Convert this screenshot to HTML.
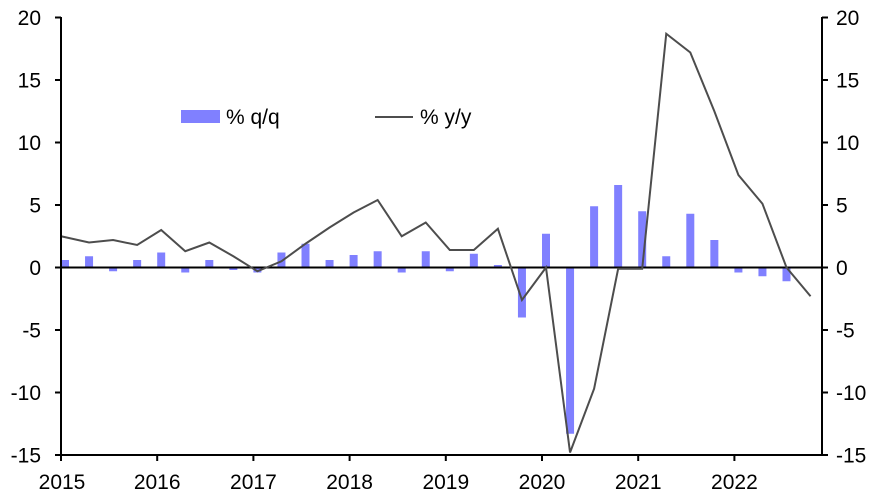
<!DOCTYPE html>
<html><head><meta charset="utf-8"><style>body{margin:0;background:#fff}svg{display:block}text{font-family:"Liberation Sans",Arial,sans-serif;font-size:21px;fill:#000}</style></head><body>
<svg width="883" height="498" xmlns="http://www.w3.org/2000/svg">
<g fill="#8080ff">
<rect x="61" y="260" width="8" height="7.5"/>
<rect x="85.05" y="256.25" width="8" height="11.25"/>
<rect x="109.1" y="267.5" width="8" height="3.75"/>
<rect x="133.15" y="260" width="8" height="7.5"/>
<rect x="157.2" y="252.5" width="8" height="15"/>
<rect x="181.25" y="267.5" width="8" height="5"/>
<rect x="205.3" y="260" width="8" height="7.5"/>
<rect x="229.35" y="267.5" width="8" height="2.5"/>
<rect x="253.4" y="267.5" width="8" height="5"/>
<rect x="277.45" y="252.5" width="8" height="15"/>
<rect x="301.5" y="243.75" width="8" height="23.75"/>
<rect x="325.55" y="260" width="8" height="7.5"/>
<rect x="349.6" y="255" width="8" height="12.5"/>
<rect x="373.65" y="251.25" width="8" height="16.25"/>
<rect x="397.7" y="267.5" width="8" height="5"/>
<rect x="421.75" y="251.25" width="8" height="16.25"/>
<rect x="445.8" y="267.5" width="8" height="3.75"/>
<rect x="469.85" y="253.75" width="8" height="13.75"/>
<rect x="493.9" y="265" width="8" height="2.5"/>
<rect x="517.95" y="267.5" width="8" height="50"/>
<rect x="542" y="233.75" width="8" height="33.75"/>
<rect x="566.05" y="267.5" width="8" height="166.25"/>
<rect x="590.1" y="206.25" width="8" height="61.25"/>
<rect x="614.15" y="185" width="8" height="82.5"/>
<rect x="638.2" y="211.25" width="8" height="56.25"/>
<rect x="662.25" y="256.25" width="8" height="11.25"/>
<rect x="686.3" y="213.75" width="8" height="53.75"/>
<rect x="710.35" y="240" width="8" height="27.5"/>
<rect x="734.4" y="267.5" width="8" height="5"/>
<rect x="758.45" y="267.5" width="8" height="8.75"/>
<rect x="782.5" y="267.5" width="8" height="13.75"/>
</g>
<line x1="61" y1="267.5" x2="822" y2="267.5" stroke="#000" stroke-width="2"/>
<polyline fill="none" stroke="#4d4d4d" stroke-width="2" points="61,236.25 89.05,242.5 113.1,240 137.15,245 161.2,230 185.25,251.25 209.3,242.5 233.35,256.25 257.4,271.25 281.45,261.25 305.5,243.75 329.55,227.5 353.6,212.5 377.65,200 401.7,236.25 425.75,222.5 449.8,250 473.85,250 497.9,228.75 521.95,300 546,267.5 570.05,452.5 594.1,388.75 618.15,268.75 642.2,268.75 666.25,33.75 690.3,52.5 714.35,111.25 738.4,175 762.45,203.75 786.5,267.5 810.55,296.25"/>
<g stroke="#000" stroke-width="2">
<line x1="61" y1="17" x2="61" y2="455"/>
<line x1="822" y1="17" x2="822" y2="455"/>
<line x1="60" y1="455" x2="823" y2="455"/>
<line x1="55" y1="17.5" x2="61" y2="17.5"/><line x1="822" y1="17.5" x2="828" y2="17.5"/>
<line x1="55" y1="80" x2="61" y2="80"/><line x1="822" y1="80" x2="828" y2="80"/>
<line x1="55" y1="142.5" x2="61" y2="142.5"/><line x1="822" y1="142.5" x2="828" y2="142.5"/>
<line x1="55" y1="205" x2="61" y2="205"/><line x1="822" y1="205" x2="828" y2="205"/>
<line x1="55" y1="267.5" x2="61" y2="267.5"/><line x1="822" y1="267.5" x2="828" y2="267.5"/>
<line x1="55" y1="330" x2="61" y2="330"/><line x1="822" y1="330" x2="828" y2="330"/>
<line x1="55" y1="392.5" x2="61" y2="392.5"/><line x1="822" y1="392.5" x2="828" y2="392.5"/>
<line x1="55" y1="455" x2="61" y2="455"/><line x1="822" y1="455" x2="828" y2="455"/>
<line x1="61" y1="455" x2="61" y2="461"/>
<line x1="157.2" y1="455" x2="157.2" y2="461"/>
<line x1="253.4" y1="455" x2="253.4" y2="461"/>
<line x1="349.6" y1="455" x2="349.6" y2="461"/>
<line x1="445.8" y1="455" x2="445.8" y2="461"/>
<line x1="542" y1="455" x2="542" y2="461"/>
<line x1="638.2" y1="455" x2="638.2" y2="461"/>
<line x1="734.4" y1="455" x2="734.4" y2="461"/>
</g>
<g text-anchor="end">
<text x="41" y="25">20</text><text x="41" y="87.5">15</text><text x="41" y="150">10</text><text x="41" y="212.5">5</text><text x="41" y="275">0</text><text x="41" y="337.5">-5</text><text x="41" y="400">-10</text><text x="41" y="462.5">-15</text>
</g>
<g>
<text x="836" y="25">20</text><text x="836" y="87.5">15</text><text x="836" y="150">10</text><text x="836" y="212.5">5</text><text x="836" y="275">0</text><text x="836" y="337.5">-5</text><text x="836" y="400">-10</text><text x="836" y="462.5">-15</text>
</g>
<g text-anchor="middle">
<text x="62" y="489">2015</text><text x="157.2" y="489">2016</text><text x="253.4" y="489">2017</text><text x="349.6" y="489">2018</text><text x="445.8" y="489">2019</text><text x="542" y="489">2020</text><text x="638.2" y="489">2021</text><text x="734.4" y="489">2022</text>
</g>
<rect x="181" y="110" width="39" height="13" fill="#8080ff"/>
<text x="226" y="124">% q/q</text>
<line x1="375" y1="117" x2="413" y2="117" stroke="#4d4d4d" stroke-width="2"/>
<text x="420" y="124">% y/y</text>
</svg></body></html>
